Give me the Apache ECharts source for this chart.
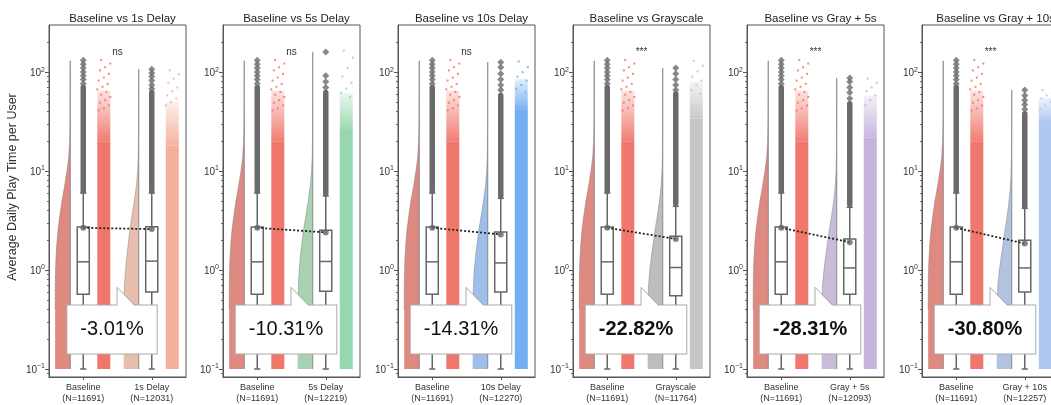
<!DOCTYPE html>
<html><head><meta charset="utf-8">
<script src="https://cdn.jsdelivr.net/npm/echarts@6/dist/echarts.min.js"></script>
<style>html,body{margin:0;padding:0;background:#fff}#c{width:1051px;height:405px}</style>
</head><body><div id="c"></div>
<script>
// ---------------- DATA ----------------
const panelTitles = ['Baseline vs 1s Delay','Baseline vs 5s Delay','Baseline vs 10s Delay','Baseline vs Grayscale','Baseline vs Gray + 5s','Baseline vs Gray + 10s'];
const baselineName = 'Baseline';
const baselineN = 11691;
const treatmentNames = ['1s Delay','5s Delay','10s Delay','Grayscale','Gray + 5s','Gray + 10s'];
const treatmentN = [12031, 12219, 12270, 11764, 12093, 12257];
const significance = ['ns','ns','ns','***','***','***'];
const pctChange = ['-3.01%','-10.31%','-14.31%','-22.82%','-28.31%','-30.80%'];
const pctBold = [false, false, false, true, true, true];
const yTickExponents = [-1, 0, 1, 2];

// box stats: [lower whisker, Q1, median, Q3, upper whisker]
const baselineBox = [0.1, 0.57, 1.21, 2.72, 6.0];
const treatmentBox = [
  [0.1, 0.60, 1.23, 2.74, 6.0],
  [0.1, 0.61, 1.22, 2.52, 5.6],
  [0.1, 0.60, 1.18, 2.42, 5.3],
  [0.1, 0.55, 1.06, 2.20, 4.4],
  [0.1, 0.57, 1.05, 2.06, 4.3],
  [0.1, 0.60, 1.05, 2.00, 4.2]
];
const baselineMean = 2.67;
const treatmentMean = [2.59, 2.40, 2.29, 2.06, 1.91, 1.85];

// dense outlier run [from, to] and individual outliers above it
const baselineOutlierRun = [6.3, 70];
const baselineOutliers = [76, 84, 92, 100, 110, 120, 132];
const treatmentOutlierRun = [[6.3, 62], [5.9, 62], [5.6, 58], [4.7, 60], [4.6, 48], [4.4, 38]];
const treatmentOutliers = [
  [68, 74, 82, 90, 98, 107],
  [70, 80, 92, 160],
  [66, 74, 84, 96, 112, 126],
  [66, 74, 84, 96, 110],
  [54, 62, 70, 80, 87],
  [42, 47, 52, 58, 66]
];

// half-violin density profiles: [value, relative density]
const baselineViolin = [[0.1,1],[0.4,1],[0.8,0.99],[1.2,0.96],[1.8,0.9],[2.5,0.82],[3.5,0.7],[5,0.55],[7,0.38],[10,0.22],[14,0.1],[20,0.04],[35,0.012],[130,0]];
const treatmentViolins = [
  [[0.1,1],[0.4,0.99],[0.7,0.95],[1.0,0.88],[1.5,0.76],[2.5,0.6],[3.5,0.45],[5,0.3],[7,0.16],[10,0.07],[15,0.03],[30,0.008],[107,0]],
  [[0.1,1],[0.4,0.99],[0.7,0.95],[1.0,0.9],[1.5,0.8],[2.5,0.62],[3.5,0.46],[5,0.3],[7,0.17],[10,0.08],[15,0.03],[30,0.008],[160,0]],
  [[0.1,1],[0.4,0.99],[0.7,0.95],[1.0,0.9],[1.5,0.78],[2.5,0.6],[3.5,0.44],[5,0.28],[7,0.15],[10,0.07],[15,0.03],[30,0.008],[126,0]],
  [[0.1,1],[0.4,0.99],[0.7,0.94],[1.0,0.86],[1.5,0.72],[2.5,0.52],[3.5,0.36],[5,0.22],[7,0.11],[10,0.05],[15,0.02],[30,0.006],[110,0]],
  [[0.1,1],[0.4,0.99],[0.7,0.94],[1.0,0.85],[1.5,0.7],[2.5,0.5],[3.5,0.34],[5,0.2],[7,0.1],[10,0.045],[15,0.02],[30,0.005],[87,0]],
  [[0.1,1],[0.4,0.98],[0.7,0.92],[1.0,0.82],[1.5,0.66],[2.5,0.46],[3.5,0.3],[5,0.18],[7,0.09],[10,0.04],[15,0.018],[30,0.005],[66,0]]
];

// jittered points: value where the strip stops being solid, where it thins out, sparse points above
const baselineStripSolid = 20, baselineStripThin = 65;
const baselineSparse = [132, 122, 112, 104, 96, 88, 82, 76, 71, 67, 63, 59, 56, 52, 49, 46, 43, 41];
const treatmentStripSolid = [18, 26, 42, 34, 22, 32];
const treatmentStripThin = [50, 62, 85, 80, 58, 55];
const treatmentSparse = [
  [104, 95, 86, 78, 70, 64, 58, 54, 50, 46],
  [165, 140, 110, 90, 78, 68, 62, 56],
  [128, 112, 100, 90, 82, 74, 68, 62],
  [130, 116, 102, 90, 82, 74, 66, 60],
  [86, 78, 70, 64, 58, 52, 46],
  [66, 62, 58, 54, 50, 46, 42]
];

// ---------------- STYLE / LAYOUT ----------------
const baselineViolinColor = '#df8a80', baselineStripColor = '#f0776c';
const treatmentViolinColor = ['#e8bfae', '#a8d2b2', '#9ebfea', '#bdbdbd', '#c8bcd8', '#b2c2df'];
const treatmentStripColor = ['#f4b09b', '#98d7ae', '#73adf2', '#c6c6c6', '#c6b4de', '#aec8f0'];
const panelLeft = [49, 223, 398, 573, 747, 922];
const panelW = 137, panelTop = 25, panelH = 352;
const yMinVal = 0.083, yMaxVal = 299;
const FONT = 'Liberation Sans, Arial, sans-serif';

const L = v => Math.log10(v);
function rgba(hex, a) {
  const n = parseInt(hex.slice(1), 16);
  return 'rgba(' + ((n >> 16) & 255) + ',' + ((n >> 8) & 255) + ',' + (n & 255) + ',' + a + ')';
}
const minorTicks = [];
for (let e = -2; e <= 2; e++) for (let k = 2; k <= 9; k++) {
  const v = L(k * Math.pow(10, e));
  if (v > L(yMinVal) && v < L(yMaxVal)) minorTicks.push(v);
}

// geometry in x-axis units (group centres at 0 and 1)
const VIOLIN_EDGE = -0.19, VIOLIN_W = 0.22, BOX_HW = 0.088, CAP_HW = 0.045, STRIP_L = 0.205, STRIP_W = 0.19;

const grids = [], xAxes = [], yAxes = [], titles = [], series = [];

for (let i = 0; i < 6; i++) {
  grids.push({ left: panelLeft[i], top: panelTop, width: panelW, height: panelH, show: true,
    borderColor: '#555', borderWidth: 1, outerBoundsMode: 'none' });
  titles.push({ text: panelTitles[i], left: panelLeft[i] + panelW / 2, top: 8, textAlign: 'center',
    textStyle: { fontSize: 11.5, fontWeight: 'normal', color: '#222', fontFamily: FONT } });
  const labels = [baselineName + '\n(N=' + baselineN + ')', treatmentNames[i] + '\n(N=' + treatmentN[i] + ')'];
  xAxes.push({ type: 'value', gridIndex: i, min: -0.5, max: 1.5,
    axisLine: { show: true, onZero: false, lineStyle: { color: '#555', width: 1 } },
    axisTick: { show: true, customValues: [0, 1], length: 3, lineStyle: { color: '#555' } },
    axisLabel: { customValues: [0, 1], formatter: v => labels[Math.round(v)], fontSize: 9, lineHeight: 11,
      color: '#333', margin: 5, fontFamily: FONT },
    splitLine: { show: false } });
  yAxes.push({ type: 'value', gridIndex: i, min: L(yMinVal), max: L(yMaxVal), position: 'left',
    axisLine: { show: true, onZero: false, lineStyle: { color: '#555', width: 1 } },
    axisTick: { show: true, customValues: yTickExponents, length: 4, lineStyle: { color: '#555' } },
    axisLabel: { customValues: yTickExponents, margin: 4, color: '#333', fontFamily: FONT,
      formatter: v => '{b|10}{s|' + (Math.round(v) < 0 ? '\u2212' + Math.abs(Math.round(v)) : Math.round(v)) + '}',
      rich: { b: { fontSize: 10, lineHeight: 12, verticalAlign: 'bottom', fontFamily: FONT, color: '#333' },
              s: { fontSize: 7, lineHeight: 6, verticalAlign: 'top', fontFamily: FONT, color: '#333' } } },
    splitLine: { show: false },
    name: i === 0 ? 'Average Daily Play Time per User' : '', nameLocation: 'middle', nameGap: 30,
    nameTextStyle: { fontSize: 12.5, color: '#333', fontFamily: FONT, padding: [0, 0, 0, 28] } });
  yAxes.push({ type: 'value', gridIndex: i, min: L(yMinVal), max: L(yMaxVal), position: 'left', offset: 0,
    axisLine: { show: false, onZero: false }, axisLabel: { show: false }, splitLine: { show: false },
    axisTick: { show: true, customValues: minorTicks, length: 2, lineStyle: { color: '#666' } } });

  const yi = 2 * i;
  const profiles = [baselineViolin, treatmentViolins[i]];
  const vColors = [baselineViolinColor, treatmentViolinColor[i]];
  const sColors = [baselineStripColor, treatmentStripColor[i]];
  const boxes = [baselineBox, treatmentBox[i]];
  const solids = [baselineStripSolid, treatmentStripSolid[i]];
  const thins = [baselineStripThin, treatmentStripThin[i]];
  const sparse = [baselineSparse, treatmentSparse[i]];
  const runs = [baselineOutlierRun, treatmentOutlierRun[i]];
  const means = [baselineMean, treatmentMean[i]];

  // violins
  series.push({ type: 'custom', xAxisIndex: i, yAxisIndex: yi, z: 1, silent: true,
    data: [[0, L(profiles[0][0][0])], [1, L(profiles[1][0][0])]],
    renderItem: (params, api) => {
      const g = params.dataIndex, prof = profiles[g], edge = g + VIOLIN_EDGE;
      const curve = prof.map(([v, d]) => api.coord([edge - d * VIOLIN_W, L(v)]));
      const top = api.coord([edge, L(prof[prof.length - 1][0])]);
      const bot = api.coord([edge, L(prof[0][0])]);
      const pts = curve.concat([top, bot]);
      return { type: 'group', children: [
        { type: 'polygon', shape: { points: pts }, style: { fill: vColors[g], stroke: null } },
        { type: 'polyline', shape: { points: curve.slice(1) }, style: { fill: null, stroke: 'rgba(120,120,120,0.55)', lineWidth: 0.8 } },
        { type: 'line', shape: { x1: top[0], y1: top[1], x2: bot[0], y2: bot[1] }, style: { stroke: '#8a8a8a', lineWidth: 1 } }
      ] };
    } });

  // jittered point strips
  series.push({ type: 'custom', xAxisIndex: i, yAxisIndex: yi, z: 1, silent: true,
    data: [[0, L(solids[0])], [1, L(solids[1])]],
    renderItem: (params, api) => {
      const g = params.dataIndex, col = sColors[g];
      const a = api.coord([g + STRIP_L, L(solids[g])]);
      const b = api.coord([g + STRIP_L + STRIP_W, L(0.1)]);
      const t = api.coord([g + STRIP_L, L(thins[g])]);
      const children = [
        { type: 'rect', shape: { x: a[0], y: a[1], width: b[0] - a[0], height: b[1] - a[1] }, style: { fill: col } },
        { type: 'rect', shape: { x: a[0], y: t[1], width: b[0] - a[0], height: a[1] - t[1] },
          style: { fill: new echarts.graphic.LinearGradient(0, 0, 0, 1, [{ offset: 0, color: rgba(col, 0.2) }, { offset: 1, color: rgba(col, 0.95) }]) } }
      ];
      sparse[g].forEach((v, k) => {
        const frac = ((k * 7 + 3) % 11) / 10;
        const p = api.coord([g + STRIP_L + frac * STRIP_W, L(v)]);
        children.push({ type: 'rect', shape: { x: p[0] - 1, y: p[1] - 1, width: 2, height: 2 }, style: { fill: rgba(col, 0.85) } });
      });
      return { type: 'group', children };
    } });

  // boxes and whiskers
  series.push({ type: 'custom', xAxisIndex: i, yAxisIndex: yi, z: 2, silent: true,
    data: [[0, L(boxes[0][2])], [1, L(boxes[1][2])]],
    renderItem: (params, api) => {
      const g = params.dataIndex, s = boxes[g].map(L);
      const c = (x, y) => api.coord([x, y]);
      const st = { stroke: '#666', lineWidth: 1.5 };
      const ln = (p, q) => ({ type: 'line', shape: { x1: p[0], y1: p[1], x2: q[0], y2: q[1] }, style: st });
      const r1 = c(g - BOX_HW, s[3]), r2 = c(g + BOX_HW, s[1]);
      return { type: 'group', children: [
        ln(c(g, s[0]), c(g, s[1])), ln(c(g, s[3]), c(g, s[4])),
        ln(c(g - CAP_HW, s[0]), c(g + CAP_HW, s[0])), ln(c(g - CAP_HW, s[4]), c(g + CAP_HW, s[4])),
        { type: 'rect', shape: { x: r1[0], y: r1[1], width: r2[0] - r1[0], height: r2[1] - r1[1] }, style: { fill: '#fff', stroke: '#666', lineWidth: 1.5 } },
        ln(c(g - BOX_HW, s[2]), c(g + BOX_HW, s[2]))
      ] };
    } });

  // dense outlier runs
  series.push({ type: 'custom', xAxisIndex: i, yAxisIndex: yi, z: 3, silent: true,
    data: [[0, L(runs[0][0])], [1, L(runs[1][0])]],
    renderItem: (params, api) => {
      const g = params.dataIndex;
      const p = api.coord([g, L(runs[g][0])]), q = api.coord([g, L(runs[g][1])]);
      return { type: 'line', shape: { x1: p[0], y1: p[1], x2: q[0], y2: q[1] }, style: { stroke: '#6a6a6a', lineWidth: 5.5, lineCap: 'round' } };
    } });
  // individual outliers
  series.push({ type: 'scatter', xAxisIndex: i, yAxisIndex: yi, z: 3, silent: true, symbol: 'diamond', symbolSize: 7,
    itemStyle: { color: '#6a6a6a' },
    data: baselineOutliers.map(v => [0, L(v)]).concat(treatmentOutliers[i].map(v => [1, L(v)])) });

  // mean connector
  series.push({ type: 'line', xAxisIndex: i, yAxisIndex: yi, z: 4, silent: true, symbol: 'none',
    lineStyle: { color: '#222', width: 1.8, type: [2, 2] },
    data: [[0, L(means[0])], [1, L(means[1])]] });
  series.push({ type: 'scatter', xAxisIndex: i, yAxisIndex: yi, z: 5, silent: true, symbolSize: 6,
    itemStyle: { color: '#666' }, data: [[0, L(means[0])], [1, L(means[1])]] });

  // callout + significance
  series.push({ type: 'custom', xAxisIndex: i, yAxisIndex: yi, z: 6, silent: true,
    data: [[0.5, 2.2]],
    renderItem: (params, api) => {
      const sig = api.coord([0.5, 2.2]);
      const cc = api.coord([0.42, -0.6]);
      const tipX = cc[0] + 5, topY = cc[1] - 24;
      return { type: 'group', children: [
        { type: 'text', x: sig[0], y: sig[1], style: { text: significance[i], fontSize: 10, fill: '#333', fontFamily: FONT, align: 'center', verticalAlign: 'middle' } },
        { type: 'text', x: cc[0], y: cc[1], style: { text: pctChange[i], fontSize: 20, fontWeight: pctBold[i] ? 'bold' : 'normal',
          fontFamily: FONT, fill: '#111', align: 'center', verticalAlign: 'middle', lineHeight: 24,
          backgroundColor: '#fff', borderColor: '#aaa', borderWidth: 1, padding: [12, 13] } },
        { type: 'polygon', shape: { points: [[tipX, topY + 1], [tipX, topY - 18], [tipX + 18, topY + 1]] }, style: { fill: '#fff', stroke: null } },
        { type: 'polyline', shape: { points: [[tipX, topY], [tipX, topY - 18], [tipX + 18, topY]] }, style: { fill: null, stroke: '#aaa', lineWidth: 1 } }
      ] };
    } });
}

const chart = echarts.init(document.getElementById('c'), null, { renderer: 'canvas' });
chart.setOption({ animation: false, backgroundColor: '#fff', title: titles, grid: grids, xAxis: xAxes, yAxis: yAxes, series });
</script></body></html>
